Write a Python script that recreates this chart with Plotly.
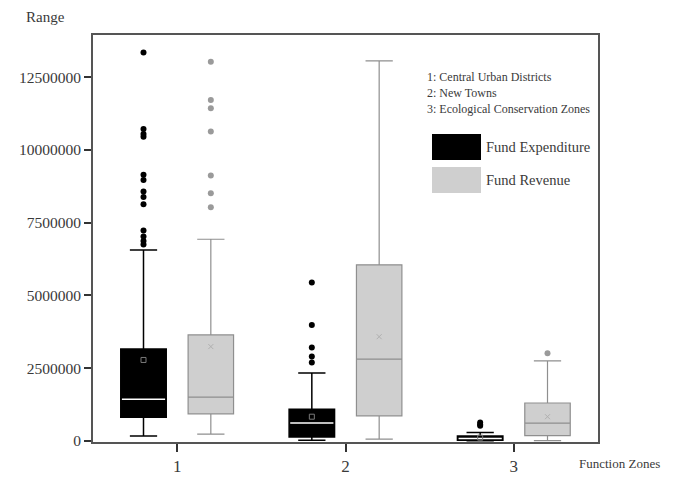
import plotly.graph_objects as go

# ---- data ----
zones = [1, 2, 3]
zone_labels = ["1", "2", "3"]

exp_q1 = [0.81e6, 0.13e6, 0.02e6]
exp_median = [1.43e6, 0.61e6, 0.08e6]
exp_q3 = [3.16e6, 1.09e6, 0.17e6]
exp_lower = [0.17e6, 0.02e6, 0.0]
exp_upper = [6.56e6, 2.33e6, 0.29e6]
exp_mean = [2.78e6, 0.83e6, 0.11e6]
exp_outliers = [
    [13.35e6, 10.72e6, 10.55e6, 10.45e6, 9.15e6, 8.97e6, 8.57e6, 8.38e6, 8.13e6,
     7.23e6, 7.02e6, 6.87e6, 6.75e6],
    [5.44e6, 3.98e6, 3.21e6, 2.90e6, 2.69e6],
    [0.63e6, 0.56e6, 0.52e6],
]

rev_q1 = [0.93e6, 0.86e6, 0.18e6]
rev_median = [1.50e6, 2.81e6, 0.61e6]
rev_q3 = [3.64e6, 6.05e6, 1.30e6]
rev_lower = [0.23e6, 0.06e6, 0.01e6]
rev_upper = [6.93e6, 13.06e6, 2.75e6]
rev_mean = [3.24e6, 3.58e6, 0.83e6]
rev_outliers = [
    [13.03e6, 11.72e6, 11.43e6, 10.63e6, 9.12e6, 8.51e6, 8.03e6],
    [],
    [3.01e6],
]

y_ticks = [0, 2500000, 5000000, 7500000, 10000000, 12500000]
zone_names = ["1: Central Urban Districts", "2: New Towns", "3: Ecological Conservation Zones"]
series_names = ["Fund Expenditure", "Fund Revenue"]

# ---- styling ----
OFF = 0.2
BW = 0.27
SERIF = "Liberation Serif, Times New Roman, serif"
BLACK = "#000000"
GRAY_FILL = "#cfcfcf"
GRAY_LINE = "#8f8f8f"
TXT = "#3a3a3a"

# plot-area pixel frame (page coords) used to place the decorations
PL, PR, PT, PB = 93, 598, 35, 442
PW, PH = PR - PL, PB - PT


def px(x):
    return (x - PL) / PW


def py(y):
    return (PB - y) / PH


exp_x = [z - OFF for z in zones]
rev_x = [z + OFF for z in zones]

fig = go.Figure()

fig.add_trace(go.Box(
    x=exp_x, q1=exp_q1, median=exp_median, q3=exp_q3,
    lowerfence=exp_lower, upperfence=exp_upper,
    width=BW, whiskerwidth=0.6, fillcolor=BLACK,
    line=dict(color=BLACK, width=1.5), boxpoints=False,
    name=series_names[0], showlegend=False, hoverinfo="skip"))

fig.add_trace(go.Box(
    x=rev_x, q1=rev_q1, median=rev_median, q3=rev_q3,
    lowerfence=rev_lower, upperfence=rev_upper,
    width=BW, whiskerwidth=0.6, fillcolor=GRAY_FILL,
    line=dict(color=GRAY_LINE, width=1.2), boxpoints=False,
    name=series_names[1], showlegend=False, hoverinfo="skip"))

# white median line over the black boxes
mx, my = [], []
for xc, m in zip(exp_x, exp_median):
    mx += [xc - BW / 2 * 0.95, xc + BW / 2 * 0.95, None]
    my += [m, m, None]
fig.add_trace(go.Scatter(x=mx, y=my, mode="lines",
                         line=dict(color="white", width=1.5),
                         showlegend=False, hoverinfo="skip"))

# mean markers
fig.add_trace(go.Scatter(x=exp_x, y=exp_mean, mode="markers",
                         marker=dict(symbol="square-open", size=5, color="#7a7a7a"),
                         showlegend=False, hoverinfo="skip"))
fig.add_trace(go.Scatter(x=rev_x, y=rev_mean, mode="markers",
                         marker=dict(symbol="x-thin-open", size=5, color="#b0b0b0",
                                     line=dict(color="#b0b0b0", width=1)),
                         showlegend=False, hoverinfo="skip"))

# outliers
ox, oy = [], []
for xc, outs in zip(exp_x, exp_outliers):
    ox += [xc] * len(outs)
    oy += outs
fig.add_trace(go.Scatter(x=ox, y=oy, mode="markers",
                         marker=dict(symbol="circle", size=6, color=BLACK),
                         showlegend=False, hoverinfo="skip"))
rx, ry = [], []
for xc, outs in zip(rev_x, rev_outliers):
    rx += [xc] * len(outs)
    ry += outs
fig.add_trace(go.Scatter(x=rx, y=ry, mode="markers",
                         marker=dict(symbol="circle", size=6, color="#9a9a9a"),
                         showlegend=False, hoverinfo="skip"))

# zone key
for i, t in enumerate(zone_names):
    fig.add_annotation(xref="paper", yref="paper",
                       x=px(425), y=py(77 + 16 * i),
                       xanchor="left", yanchor="middle", text=t, showarrow=False,
                       font=dict(family=SERIF, size=12, color=TXT))

# series key
swatch_colors = [BLACK, GRAY_FILL]
for i, (name, col) in enumerate(zip(series_names, swatch_colors)):
    top = 134 + 33 * i
    fig.add_shape(type="rect", xref="paper", yref="paper",
                  x0=px(432), x1=px(481), y0=py(top + 26), y1=py(top),
                  fillcolor=col, line=dict(width=0))
    fig.add_annotation(xref="paper", yref="paper",
                       x=px(484), y=py(top + 13),
                       xanchor="left", yanchor="middle", text=name, showarrow=False,
                       font=dict(family=SERIF, size=14.5, color=TXT))

# axis titles
fig.add_annotation(xref="paper", yref="paper", x=px(24), y=py(17),
                   xanchor="left", yanchor="middle", text="Range", showarrow=False,
                   font=dict(family=SERIF, size=15, color=TXT))
fig.add_annotation(xref="paper", yref="paper", x=px(662), y=py(463),
                   xanchor="right", yanchor="middle", text="Function Zones", showarrow=False,
                   font=dict(family=SERIF, size=13, color=TXT))

# page body has an 8px margin, so the figure is offset by 8px
fig.update_layout(
    width=678, height=479,
    margin=dict(l=PL - 8, r=678 + 8 - PR, t=PT - 8, b=479 + 8 - PB),
    paper_bgcolor="white", plot_bgcolor="white",
    font=dict(family=SERIF, size=12, color=TXT),
    showlegend=False,
)
fig.update_xaxes(range=[0.5, 3.5], tickvals=zones, ticktext=zone_labels,
                 ticks="outside", ticklen=8, tickcolor="#333", tickwidth=1.5,
                 showline=True, linecolor="#555", linewidth=2, mirror=True,
                 showgrid=False, zeroline=False,
                 tickfont=dict(family=SERIF, size=17, color=TXT))
fig.update_yaxes(range=[-0.04e6, 13.95e6], tickvals=y_ticks, tickformat="d",
                 ticks="outside", ticklen=7, tickcolor="#333", tickwidth=1.5,
                 showline=True, linecolor="#555", linewidth=2, mirror=True,
                 showgrid=False, zeroline=False,
                 tickfont=dict(family=SERIF, size=15.5, color=TXT))

fig.write_html("out.html")
